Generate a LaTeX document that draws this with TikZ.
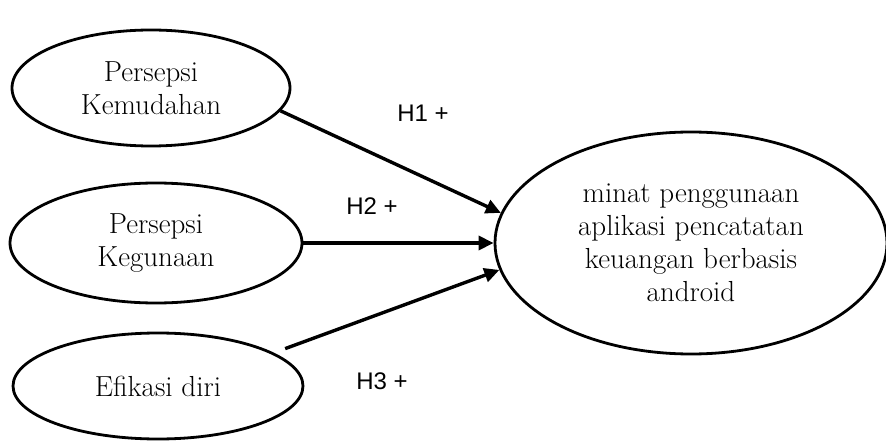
\documentclass[tikz,border=0pt]{standalone}
\usepackage{fontspec}
\newfontfamily\labelfont{Liberation Sans}
\usepackage{tikz}
\usetikzlibrary{shapes.geometric, arrows.meta, positioning}
\tikzset{
  latent/.style={ellipse, draw=black, line width=2.8pt, inner sep=0pt,
                 align=center, font=\fontsize{29}{33}\selectfont},
  hyp/.style={draw=black, line width=3.4pt,
              -{Triangle[length=15pt,width=14pt]}},
  hlabel/.style={font=\labelfont\fontsize{24}{28}\selectfont, inner sep=0pt},
}

\begin{document}
\begin{tikzpicture}[x=1pt, y=-1pt]
    \useasboundingbox (0,0) rectangle (886,441);

    %% independent variables
    \node[latent, minimum width=278pt, minimum height=116pt]
          (kemudahan) at (151,88) {Persepsi\\Kemudahan};
    \node[latent, minimum width=292pt, minimum height=120pt]
          (kegunaan) at (156,243) {Persepsi\\Kegunaan};
    \node[latent, minimum width=290pt, minimum height=106pt]
          (efikasi) at (158,386) {Efikasi diri};

    %% dependent variable
    \node[latent, minimum width=392pt, minimum height=222pt]
          (minat) at (691,243)
          {minat penggunaan\\aplikasi pencatatan\\keuangan berbasis\\android};

    %% hypotheses
    \draw[hyp] (kemudahan.-10) -- (minat.171);
    \draw[hyp] (kegunaan.east) -- (minat.west);
    \draw[hyp, shorten <=12pt] (efikasi.16) -- (minat.-172);

    %% hypothesis labels
    \node[hlabel] (h1) at (423,113) {H1 +};
    \node[hlabel] (h2) at (372,206) {H2 +};
    \node[hlabel] (h3) at (382,381) {H3 +};
\end{tikzpicture}
\end{document}
